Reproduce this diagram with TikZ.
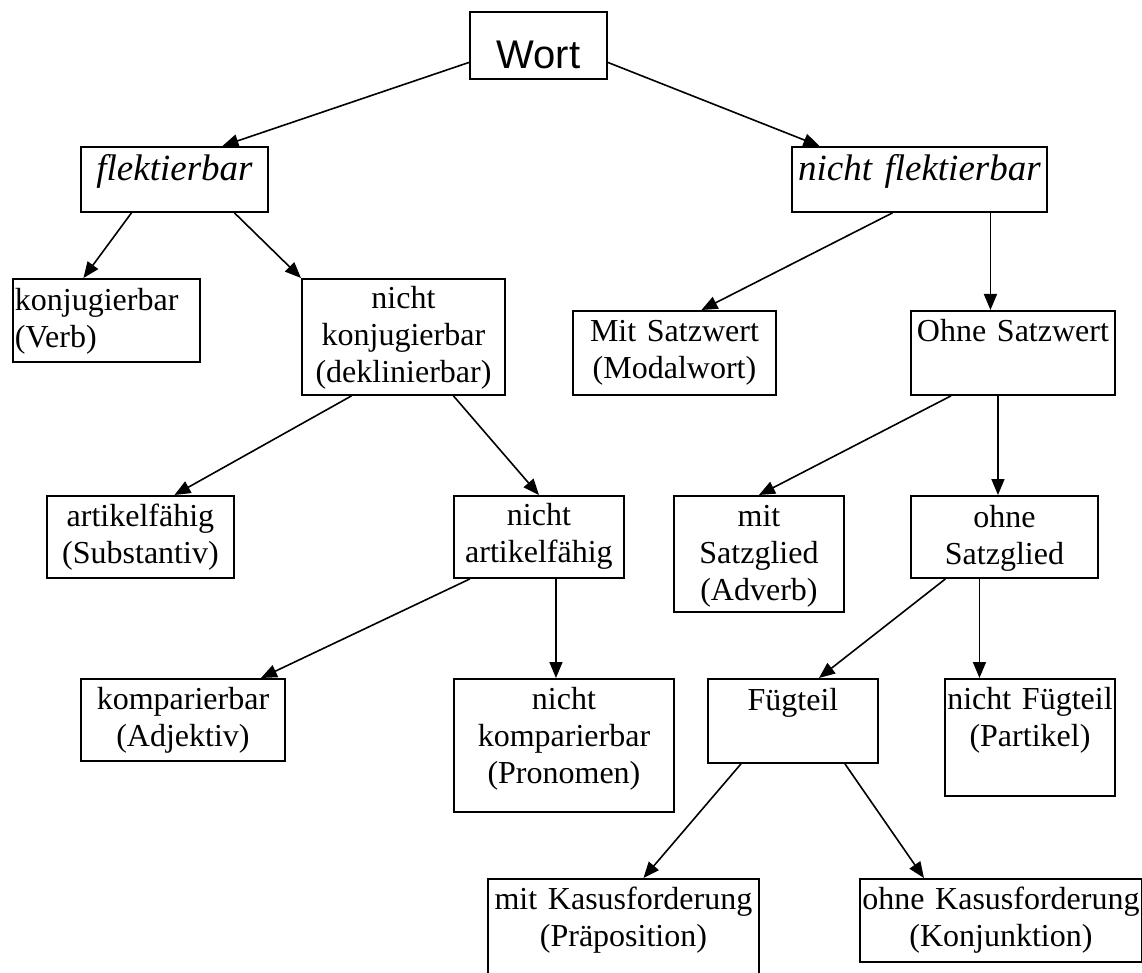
\documentclass[tikz,border=0pt]{standalone}
\usepackage{fontspec}
\setmainfont{Liberation Serif}
\newfontfamily\wortfont{Liberation Sans}
\usepackage{tikz}
\usetikzlibrary{arrows.meta}

\begin{document}
\begin{tikzpicture}[x=1pt,y=-1pt,
    wbox/.style={draw,line width=1.9pt,anchor=north west,inner xsep=2pt,inner ysep=0pt,align=center,text height=31pt,font=\fontsize{32}{37}\selectfont},
    kursiv/.style={font=\itshape\fontsize{37}{42}\selectfont,text height=34pt,text depth=31pt},
    pfeil/.style={-{Triangle[length=16pt,width=13pt]},line width=1.6pt}]
  \useasboundingbox (0,0) rectangle (1142,973);
  \node[wbox,text width=133pt,text height=57pt,text depth=10pt,font=\wortfont\fontsize{40}{46}\selectfont](wort) at (469,11) {Wort};
  \node[wbox,kursiv,text width=183pt](flekt) at (80,146) {flektierbar};
  \node[wbox,kursiv,text width=251pt](nflekt) at (791,146) {nicht flektierbar};
  \node[wbox,align=left,text width=183pt,text height=32pt,text depth=51pt](verb) at (12,278) {konjugierbar\\(Verb)};
  \node[wbox,text width=199pt,text height=30pt,text depth=86pt](dekl) at (301,278) {nicht\\konjugierbar\\(deklinierbar)};
  \node[wbox,text width=199pt,text depth=53pt](modal) at (572,310) {Mit Satzwert\\(Modalwort)};
  \node[wbox,text width=200pt,text depth=53pt](ohnesw) at (910,310) {Ohne Satzwert};
  \node[wbox,text width=183pt,text depth=51pt](subst) at (46,495) {artikelfähig\\(Substantiv)};
  \node[wbox,text width=166pt,text height=30pt,text depth=52pt](nartikel) at (453,495) {nicht\\artikelfähig};
  \node[wbox,text width=166pt,text depth=85pt](adverb) at (673,495) {mit\\Satzglied\\(Adverb)};
  \node[wbox,text width=183pt,text height=32pt,text depth=50pt](ohnesg) at (910,495) {ohne\\Satzglied};
  \node[wbox,text width=200pt,text depth=51pt](adj) at (80,678) {komparierbar\\(Adjektiv)};
  \node[wbox,text width=216pt,text depth=102pt](pron) at (453,678) {nicht\\komparierbar\\(Pronomen)};
  \node[wbox,text width=166pt,text height=32pt,text depth=52pt](fueg) at (707,678) {Fügteil};
  \node[wbox,text width=166pt,text depth=86pt](partikel) at (944,678) {nicht Fügteil\\(Partikel)};
  \node[wbox,text width=267pt,text depth=81pt](praep) at (487,878) {mit Kasusforderung\\(Präposition)};
  \node[wbox,text width=278pt,text depth=52pt](konj) at (859,878) {ohne Kasusforderung\\(Konjunktion)};

  \draw[pfeil] ([yshift=-17pt]wort.west) -- ([xshift=48pt]flekt.north);
  \draw[pfeil] ([yshift=-17pt]wort.east) -- ([xshift=-100pt]nflekt.north);
  \draw[pfeil] ([xshift=-43pt]flekt.south) -- ([xshift=-23pt]verb.north);
  \draw[pfeil] ([xshift=60pt]flekt.south) -- (dekl.north west);
  \draw[pfeil] ([xshift=-52pt]dekl.south) -- ([xshift=34pt]subst.north);
  \draw[pfeil] ([xshift=50pt]dekl.south) -- (nartikel.north);
  \draw[pfeil] ([xshift=-69pt]nartikel.south) -- ([xshift=78pt]adj.north);
  \draw[pfeil] ([xshift=17pt]nartikel.south) -- ([xshift=17pt]nartikel.south |- pron.north);
  \draw[pfeil] ([xshift=-27pt]nflekt.south) -- ([xshift=27pt]modal.north);
  \draw[pfeil] ([xshift=71pt]nflekt.south) -- ([xshift=71pt]nflekt.south |- ohnesw.north);
  \draw[pfeil] ([xshift=-62pt]ohnesw.south) -- (adverb.north);
  \draw[pfeil] ([xshift=-15pt]ohnesw.south) -- ([xshift=-15pt]ohnesw.south |- ohnesg.north);
  \draw[pfeil] ([xshift=-59pt]ohnesg.south) -- ([xshift=26pt]fueg.north);
  \draw[pfeil] ([xshift=-25pt]ohnesg.south) -- ([xshift=-25pt]ohnesg.south |- partikel.north);
  \draw[pfeil] ([xshift=-52pt]fueg.south) -- ([xshift=20pt]praep.north);
  \draw[pfeil] ([xshift=52pt]fueg.south) -- ([xshift=-77pt]konj.north);
\end{tikzpicture}
\end{document}
